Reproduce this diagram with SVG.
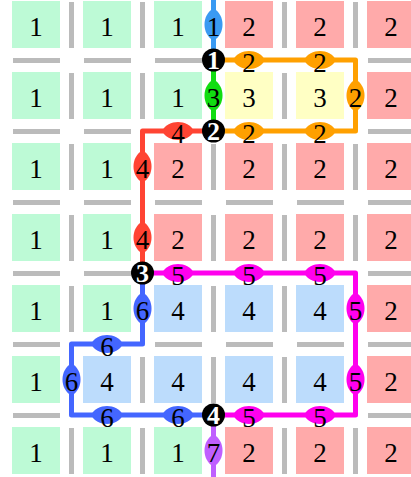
<svg xmlns="http://www.w3.org/2000/svg" xmlns:xlink="http://www.w3.org/1999/xlink" width="411" height="477" viewBox="0 0 411 477">
<style>
.g{fill:#bdfad6}.r{fill:#ffaaaa}.y{fill:#ffffc4}.b{fill:#bcdcfc}
.bar{fill:#bbbbbb}
.t{font-family:"Liberation Serif","DejaVu Serif",serif;font-size:27px;text-anchor:middle;fill:#000}
.n{font-family:"Liberation Serif","DejaVu Serif",serif;font-size:26px;font-weight:bold;text-anchor:middle;fill:#fff}
.p{fill:none;stroke-width:5;stroke-linejoin:round}
</style>
<defs>
<path id="lh" d="M-16,0 C-10,-12 10,-12 16,0 C10,12 -10,12 -16,0Z"/>
<path id="lv" d="M0,-16 C-12,-10 -12,10 0,16 C12,10 12,-10 0,-16Z"/>
</defs>
<g id="cells">
<rect class="g" x="12" y="1" width="48" height="47"/><rect class="g" x="83" y="1" width="48" height="47"/><rect class="g" x="154" y="1" width="48" height="47"/><rect class="r" x="225" y="1" width="48" height="47"/><rect class="r" x="296" y="1" width="48" height="47"/><rect class="r" x="367" y="1" width="48" height="47"/>
<rect class="g" x="12" y="72" width="48" height="47"/><rect class="g" x="83" y="72" width="48" height="47"/><rect class="g" x="154" y="72" width="48" height="47"/><rect class="y" x="225" y="72" width="48" height="47"/><rect class="y" x="296" y="72" width="48" height="47"/><rect class="r" x="367" y="72" width="48" height="47"/>
<rect class="g" x="12" y="143" width="48" height="47"/><rect class="g" x="83" y="143" width="48" height="47"/><rect class="r" x="154" y="143" width="48" height="47"/><rect class="r" x="225" y="143" width="48" height="47"/><rect class="r" x="296" y="143" width="48" height="47"/><rect class="r" x="367" y="143" width="48" height="47"/>
<rect class="g" x="12" y="214" width="48" height="47"/><rect class="g" x="83" y="214" width="48" height="47"/><rect class="r" x="154" y="214" width="48" height="47"/><rect class="r" x="225" y="214" width="48" height="47"/><rect class="r" x="296" y="214" width="48" height="47"/><rect class="r" x="367" y="214" width="48" height="47"/>
<rect class="g" x="12" y="285" width="48" height="47"/><rect class="g" x="83" y="285" width="48" height="47"/><rect class="b" x="154" y="285" width="48" height="47"/><rect class="b" x="225" y="285" width="48" height="47"/><rect class="b" x="296" y="285" width="48" height="47"/><rect class="r" x="367" y="285" width="48" height="47"/>
<rect class="g" x="12" y="356" width="48" height="47"/><rect class="b" x="83" y="356" width="48" height="47"/><rect class="b" x="154" y="356" width="48" height="47"/><rect class="b" x="225" y="356" width="48" height="47"/><rect class="b" x="296" y="356" width="48" height="47"/><rect class="r" x="367" y="356" width="48" height="47"/>
<rect class="g" x="12" y="427" width="48" height="47"/><rect class="g" x="83" y="427" width="48" height="47"/><rect class="g" x="154" y="427" width="48" height="47"/><rect class="r" x="225" y="427" width="48" height="47"/><rect class="r" x="296" y="427" width="48" height="47"/><rect class="r" x="367" y="427" width="48" height="47"/>
</g>
<g id="cell-text" class="t">
<text x="36" y="36">1</text><text x="107" y="36">1</text><text x="178" y="36">1</text><text x="249" y="36">2</text><text x="320" y="36">2</text><text x="391" y="36">2</text>
<text x="36" y="107">1</text><text x="107" y="107">1</text><text x="178" y="107">1</text><text x="249" y="107">3</text><text x="320" y="107">3</text><text x="391" y="107">2</text>
<text x="36" y="178">1</text><text x="107" y="178">1</text><text x="178" y="178">2</text><text x="249" y="178">2</text><text x="320" y="178">2</text><text x="391" y="178">2</text>
<text x="36" y="249">1</text><text x="107" y="249">1</text><text x="178" y="249">2</text><text x="249" y="249">2</text><text x="320" y="249">2</text><text x="391" y="249">2</text>
<text x="36" y="320">1</text><text x="107" y="320">1</text><text x="178" y="320">4</text><text x="249" y="320">4</text><text x="320" y="320">4</text><text x="391" y="320">2</text>
<text x="36" y="391">1</text><text x="107" y="391">4</text><text x="178" y="391">4</text><text x="249" y="391">4</text><text x="320" y="391">4</text><text x="391" y="391">2</text>
<text x="36" y="462">1</text><text x="107" y="462">1</text><text x="178" y="462">1</text><text x="249" y="462">2</text><text x="320" y="462">2</text><text x="391" y="462">2</text>
</g>
<g id="walls" class="bar">
<rect x="69" y="2" width="5" height="46"/><rect x="140" y="2" width="5" height="46"/><rect x="282" y="2" width="5" height="46"/><rect x="353" y="2" width="5" height="46"/>
<rect x="69" y="73" width="5" height="46"/><rect x="140" y="73" width="5" height="46"/><rect x="282" y="73" width="5" height="46"/>
<rect x="69" y="144" width="5" height="46"/><rect x="211" y="144" width="5" height="46"/><rect x="282" y="144" width="5" height="46"/><rect x="353" y="144" width="5" height="46"/>
<rect x="69" y="215" width="5" height="46"/><rect x="211" y="215" width="5" height="46"/><rect x="282" y="215" width="5" height="46"/><rect x="353" y="215" width="5" height="46"/>
<rect x="69" y="286" width="5" height="46"/><rect x="211" y="286" width="5" height="46"/><rect x="282" y="286" width="5" height="46"/>
<rect x="140" y="357" width="5" height="46"/><rect x="211" y="357" width="5" height="46"/><rect x="282" y="357" width="5" height="46"/>
<rect x="69" y="428" width="5" height="46"/><rect x="140" y="428" width="5" height="46"/><rect x="282" y="428" width="5" height="46"/><rect x="353" y="428" width="5" height="46"/>
<rect x="13" y="58" width="47" height="5"/><rect x="84" y="58" width="47" height="5"/><rect x="155" y="58" width="47" height="5"/><rect x="368" y="58" width="47" height="5"/>
<rect x="13" y="129" width="47" height="5"/><rect x="84" y="129" width="47" height="5"/><rect x="368" y="129" width="47" height="5"/>
<rect x="13" y="200" width="47" height="5"/><rect x="84" y="200" width="47" height="5"/><rect x="155" y="200" width="47" height="5"/><rect x="226" y="200" width="47" height="5"/><rect x="297" y="200" width="47" height="5"/><rect x="368" y="200" width="47" height="5"/>
<rect x="13" y="271" width="47" height="5"/><rect x="84" y="271" width="47" height="5"/><rect x="368" y="271" width="47" height="5"/>
<rect x="13" y="342" width="47" height="5"/><rect x="155" y="342" width="47" height="5"/><rect x="226" y="342" width="47" height="5"/><rect x="297" y="342" width="47" height="5"/><rect x="368" y="342" width="47" height="5"/>
<rect x="13" y="413" width="47" height="5"/><rect x="368" y="413" width="47" height="5"/>
</g>
<g id="connectors">
<path class="p" stroke="#3a9af2" d="M213.5,0 V60"/>
<path class="p" stroke="#11dd11" d="M213.5,60 V131"/>
<path class="p" stroke="#ffa000" d="M213.5,60 H355.5 V131 H213.5"/>
<path class="p" stroke="#ff4433" d="M213.5,131 H142.5 V273"/>
<path class="p" stroke="#ff00ee" d="M142.5,273 H355.5 V415 H213.5"/>
<path class="p" stroke="#4466ff" d="M142.5,273 V344 H71.5 V415 H213.5"/>
<path class="p" stroke="#bf5fff" d="M213.5,415 V477"/>
<g id="labels">
<use href="#lv" x="213.5" y="24.5" fill="#3a9af2"/>
<use href="#lv" x="213.5" y="95.5" fill="#11dd11"/>
<use href="#lh" x="249" y="60" fill="#ffa000"/><use href="#lh" x="320" y="60" fill="#ffa000"/><use href="#lv" x="355.5" y="95.5" fill="#ffa000"/><use href="#lh" x="249" y="131" fill="#ffa000"/><use href="#lh" x="320" y="131" fill="#ffa000"/>
<use href="#lh" x="178" y="131" fill="#ff4433"/><use href="#lv" x="142.5" y="166.5" fill="#ff4433"/><use href="#lv" x="142.5" y="237.5" fill="#ff4433"/>
<use href="#lh" x="178" y="273" fill="#ff00ee"/><use href="#lh" x="249" y="273" fill="#ff00ee"/><use href="#lh" x="320" y="273" fill="#ff00ee"/><use href="#lv" x="355.5" y="308.5" fill="#ff00ee"/><use href="#lv" x="355.5" y="379.5" fill="#ff00ee"/><use href="#lh" x="249" y="415" fill="#ff00ee"/><use href="#lh" x="320" y="415" fill="#ff00ee"/>
<use href="#lv" x="142.5" y="308.5" fill="#4466ff"/><use href="#lh" x="107" y="344" fill="#4466ff"/><use href="#lv" x="71.5" y="379.5" fill="#4466ff"/><use href="#lh" x="107" y="415" fill="#4466ff"/><use href="#lh" x="178" y="415" fill="#4466ff"/>
<use href="#lv" x="213.5" y="450.5" fill="#bf5fff"/>
</g>
<g class="t">
<text x="213.5" y="36">1</text>
<text x="213.5" y="107">3</text>
<text x="249" y="71.5">2</text><text x="320" y="71.5">2</text><text x="355.5" y="107">2</text><text x="249" y="142.5">2</text><text x="320" y="142.5">2</text>
<text x="178" y="142.5">4</text><text x="142.5" y="178">4</text><text x="142.5" y="249">4</text>
<text x="178" y="284.5">5</text><text x="249" y="284.5">5</text><text x="320" y="284.5">5</text><text x="355.5" y="320">5</text><text x="355.5" y="391">5</text><text x="249" y="426.5">5</text><text x="320" y="426.5">5</text>
<text x="142.5" y="320">6</text><text x="107" y="355.5">6</text><text x="71.5" y="391">6</text><text x="107" y="426.5">6</text><text x="178" y="426.5">6</text>
<text x="213.5" y="462">7</text>
</g>
</g>
<g id="node1"><circle cx="213.5" cy="60" r="11.5" fill="#000"/><text class="n" x="213.5" y="69">1</text></g>
<g id="node2"><circle cx="213.5" cy="131" r="11.5" fill="#000"/><text class="n" x="213.5" y="140">2</text></g>
<g id="node3"><circle cx="142.5" cy="273" r="11.5" fill="#000"/><text class="n" x="142.5" y="282">3</text></g>
<g id="node4"><circle cx="213.5" cy="415" r="11.5" fill="#000"/><text class="n" x="213.5" y="424">4</text></g>
</svg>
